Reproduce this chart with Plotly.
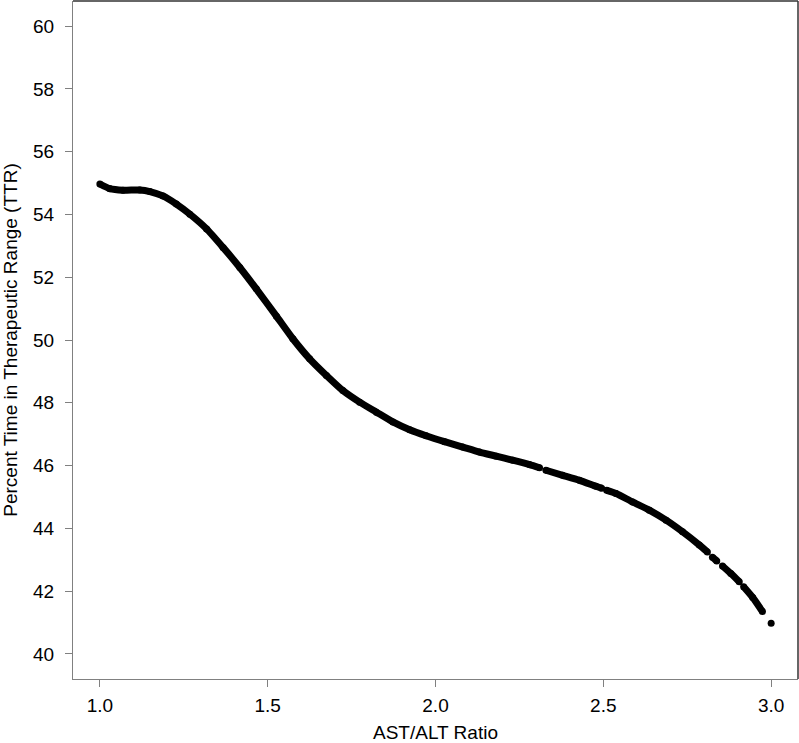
import plotly.graph_objects as go

# AST/ALT ratio vs TTR (None = visible break between dots)
ast_alt = [1.000, 1.030, 1.069, 1.119, 1.149, 1.188, 1.228, 1.268, 1.318, 1.367,
           1.417, 1.466, 1.526, 1.575, 1.625, 1.675, 1.724, 1.774, 1.824, 1.873,
           1.923, 1.972, 2.027, 2.081, 2.131, 2.181, 2.230, 2.280, 2.310, None,
           2.329, 2.379, 2.429, 2.478, 2.495, None, 2.510, 2.538, 2.587, 2.637,
           2.687, 2.736, 2.786, 2.810, None, 2.825, 2.838, None, 2.855, 2.880,
           2.905, None, 2.918, 2.945, 2.974, None, 3.000]
ttr = [54.97, 54.82, 54.77, 54.78, 54.73, 54.59, 54.33, 54.01, 53.54, 52.95,
       52.31, 51.63, 50.76, 50.04, 49.40, 48.87, 48.39, 48.02, 47.70, 47.39,
       47.14, 46.95, 46.76, 46.59, 46.43, 46.30, 46.17, 46.03, 45.93, None,
       45.85, 45.69, 45.53, 45.34, 45.28, None, 45.21, 45.11, 44.84, 44.58,
       44.26, 43.89, 43.47, 43.25, None, 43.08, 42.96, None, 42.80, 42.56,
       42.30, None, 42.14, 41.80, 41.35, None, 40.98]

x_ticks = [1.0, 1.5, 2.0, 2.5, 3.0]
y_ticks = [40, 42, 44, 46, 48, 50, 52, 54, 56, 58, 60]

fig = go.Figure()
fig.add_trace(go.Scatter(
    x=ast_alt, y=ttr, mode="lines+markers", connectgaps=False,
    line=dict(color="black", width=7, shape="spline", smoothing=0.6),
    marker=dict(color="black", size=7),
    showlegend=False, hoverinfo="skip",
))

axis_font = dict(family="Liberation Sans, Arial, sans-serif", size=19, color="black")
fig.update_layout(
    width=799, height=743,
    margin=dict(l=73, r=1, t=1, b=64),
    paper_bgcolor="white", plot_bgcolor="white",
    font=axis_font,
    xaxis=dict(
        range=[0.92, 3.08], tickvals=x_ticks, ticktext=[f"{v:.1f}" for v in x_ticks],
        showgrid=False, zeroline=False, showline=True, linecolor="#808080", linewidth=1.3,
        ticks="outside", ticklen=7, tickcolor="#808080", tickwidth=1.3,
        tickfont=axis_font, ticklabelstandoff=2,
        title=dict(text="AST/ALT Ratio", font=axis_font, standoff=10),
    ),
    yaxis=dict(
        range=[39.2, 60.8], tickvals=y_ticks,
        showgrid=False, zeroline=False, showline=True, linecolor="#808080", linewidth=1.3,
        ticks="outside", ticklen=7, tickcolor="#808080", tickwidth=1.3,
        tickfont=axis_font, ticklabelstandoff=7,
        title=dict(text="Percent Time in Therapeutic Range (TTR)", font=axis_font, standoff=10),
    ),
    shapes=[
        dict(type="line", xref="paper", yref="paper", x0=0, x1=1, y0=1, y1=1,
             line=dict(color="#333333", width=1.5)),
        dict(type="line", xref="paper", yref="paper", x0=1, x1=1, y0=0, y1=1,
             line=dict(color="#333333", width=1.5)),
    ],
)

# drop the default 8px page margin so the figure sits at the window's corner
fig.write_html("out.html", config={"displayModeBar": False},
               post_script="document.body.style.margin='0';")
